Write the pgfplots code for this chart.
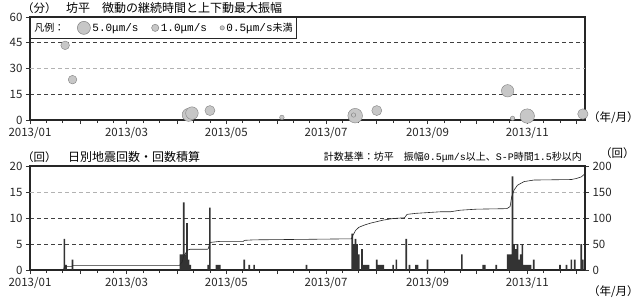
\documentclass[border=0pt]{standalone}
\usepackage{fontspec}
\usepackage{pgfplots}
\pgfplotsset{compat=1.18}
\usepackage{pgfplotstable}
\setmainfont{Noto Sans CJK JP}
\newfontfamily\mono{Liberation Mono}

\pgfplotstableread{
d v r
21.5 43.5 4.3
26 23.5 4.3
97 3 6.5
99 4 6.3
110 5.5 5
154 1.5 2.3
198.8 2.5 7.3
212 5.5 5
292 17 6.2
295 1 2.2
304 2.3 7.2
338 3.5 5.2
197.8 2.9 2.2
}\bubbles

\pgfplotstableread{
d n
21 6
22 1
26 2
92 3
93 3
94 13
95 3
96 9
97 2
98 1
109 1
110 12
114 1
115 1
116 1
131 2
134 1
137 1
169 1
197 7
198 5
199 6
200 5
201 3
203 4
204 1
205 1
206 1
207 1
212 2
213 1
214 1
215 1
216 1
222 1
224 2
230 6
232 1
236 1
237 1
243 2
264 3
277 1
278 1
285 1
292 3
293 3
294 3
295 18
296 5
297 4
298 5
299 2
300 3
301 5
302 1
303 1
304 1
305 1
306 1
308 2
324 1
328 1
331 2
333 2
337 5
338 2
}\daily

\pgfplotstableread{
d c
0 0
20.5 0
21 6
22 7
25.5 7
26 9
91.5 9
92 12
93 15
94 28
95 31
96 38
98 40
108.5 40
109 41
110 53
116 55
130.5 55
131 57
137 58
169 59
196.5 60
197.5 67
199 76
201 82
204 86
208 90
212 93
216 96
222 99
229 100.5
230.5 107
236 109
241 110
251 112
257 112
263 115
273 117
291.5 118
293.5 122
294.5 141
296 154
298 163
302 170
308 173
331 174
334 176
337 179
338.5 183
339.3 186
}\cumul

\pgfplotsset{
  common/.style={
    scale only axis, width=555pt, xmin=0, xmax=339.3,
    axis line style={line width=1.4pt, black!85},
    tick align=outside, major tick length=4pt, minor tick length=3pt,
    tick style={black!80, line width=0.6pt},
    xtick={0,31,59,90,120,151,181,212,243,273,304,334},
    xticklabels={2013/01,,2013/03,,2013/05,,2013/07,,2013/09,,2013/11,},
    minor xtick={10,20,41,51,69,79,100,110,130,140,161,171,191,201,222,232,253,263,283,293,314,324},
    xtick pos=bottom, ytick pos=left,
    /pgf/number format/assume math mode=true,
    ticklabel style={font=\fontsize{11.5}{12}\selectfont, black!85},
    ymajorgrids,
    major grid style={black!75, line width=0.6pt, dash pattern=on 4pt off 3pt},
  },
  lightgrid/.style={extra y tick style={grid=major, major grid style={black!30, line width=0.6pt, dash pattern=on 4pt off 3pt}}},
}

\begin{document}
\begin{tikzpicture}[x=1pt,y=1pt]
\useasboundingbox (0,0) rectangle (640,301);

% ---- top panel
\begin{axis}[common, at={(30pt,181pt)}, anchor=south west, height=103pt,
  ymin=0, ymax=60, ytick={0,15,45,60}, extra y ticks={30}, lightgrid,
  clip=false,
  legend style={at={(0,1)}, anchor=north west, draw=black!85, line width=0.8pt,
    fill=white, font=\fontsize{10}{11}\selectfont, inner xsep=2pt, inner ysep=3.5pt,
    /tikz/every even column/.append style={column sep=11pt}},
  legend columns=4, legend cell align=left]
\addlegendimage{empty legend}
\addlegendentry{凡例：}
\addlegendimage{only marks, mark=*, mark size=6.5pt, mark options={fill=black!22, draw=black!50, line width=0.5pt}}
\addlegendentry{{\mono\fontsize{11}{12}\selectfont 5.0μm/s}}
\addlegendimage{only marks, mark=*, mark size=3.6pt, mark options={fill=black!22, draw=black!50, line width=0.5pt}}
\addlegendentry{{\mono\fontsize{11}{12}\selectfont 1.0μm/s}}
\addlegendimage{only marks, mark=*, mark size=2.2pt, mark options={fill=black!22, draw=black!50, line width=0.5pt}}
\addlegendentry{{\mono\fontsize{11}{12}\selectfont 0.5μm/s}未満}
\addplot[scatter, only marks, mark=*, forget plot,
  scatter/use mapped color={draw=black!50, fill=black!22},
  visualization depends on={\thisrow{r} \as \rr},
  scatter/@pre marker code/.append style={/tikz/mark size=\rr, /tikz/line width=0.5pt}]
  table[x=d, y=v, meta=r] {\bubbles};
\end{axis}

% ---- bottom panel, daily counts
\begin{axis}[common, at={(30pt,31pt)}, anchor=south west, height=104pt,
  ymin=0, ymax=20, ytick={0,5,10,20}, extra y ticks={15}, lightgrid]
\addplot[ybar, bar width=1, bar shift=0pt, fill=black!80, draw=none] table[x=d, y=n] {\daily};
\end{axis}

% ---- bottom panel, cumulative
\begin{axis}[scale only axis, width=555pt, height=104pt, at={(30pt,31pt)}, anchor=south west,
  xmin=0, xmax=339.3, ymin=0, ymax=200,
  axis x line=none, axis y line*=right,
  axis line style={line width=1.4pt, black!85},
  tick align=outside, major tick length=4pt, tick style={black!80, line width=0.6pt},
  ytick={0,50,100,150,200},
  /pgf/number format/assume math mode=true,
  ticklabel style={font=\fontsize{11.5}{12}\selectfont, black!85}]
\addplot[black!85, line width=0.6pt, no marks] table[x=d, y=c] {\cumul};
\end{axis}

% ---- texts
\node[anchor=west, inner sep=0, font=\fontsize{11.5}{12}\selectfont] at (22,293) {（分）};
\node[anchor=west, inner sep=0, font=\fontsize{12}{13}\selectfont] at (66,293) {坊平　微動の継続時間と上下動最大振幅};
\node[anchor=west, inner sep=0, font=\fontsize{11.5}{12}\selectfont] at (588,183) {（年/月）};
\node[anchor=west, inner sep=0, font=\fontsize{11.5}{12}\selectfont] at (22,144) {（回）};
\node[anchor=west, inner sep=0, font=\fontsize{12}{13}\selectfont] at (68,144) {日別地震回数・回数積算};
\node[anchor=east, inner sep=0, font=\fontsize{10}{11}\selectfont] at (582,144) {計数基準：坊平　振幅{\mono 0.5μm/s}以上、{\mono S-P}時間{\mono 1.5}秒以内};
\node[anchor=west, inner sep=0, font=\fontsize{11.5}{12}\selectfont] at (600,148) {（回）};
\node[anchor=west, inner sep=0, font=\fontsize{11.5}{12}\selectfont] at (588,9) {（年/月）};
\end{tikzpicture}
\end{document}
